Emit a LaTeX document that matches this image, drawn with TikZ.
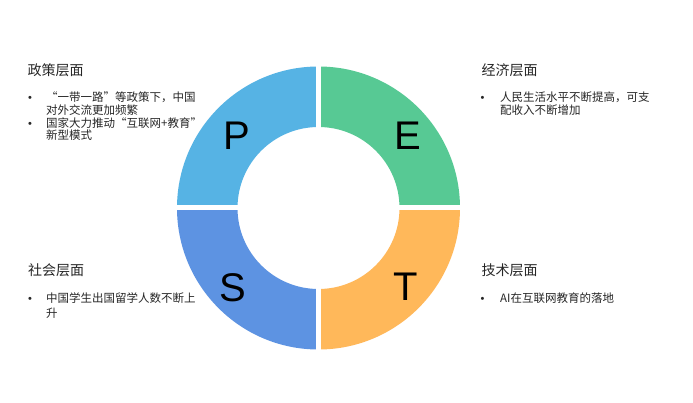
\documentclass[tikz,border=0pt]{standalone}
\usepackage{fontspec}
\setmainfont{Liberation Sans}
\newfontfamily\cjk{Noto Sans CJK SC}
\definecolor{cP}{RGB}{86,179,228}
\definecolor{cE}{RGB}{87,201,148}
\definecolor{cS}{RGB}{93,147,226}
\definecolor{cT}{RGB}{255,184,90}
\definecolor{txt}{RGB}{38,38,38}
\begin{document}
\begin{tikzpicture}[x=1pt,y=-1pt,
  letter/.style={font=\fontsize{40}{40}\selectfont, text=black, inner sep=0pt, anchor=center},
  head/.style={font=\cjk\fontsize{14}{16}\selectfont, text=txt, inner sep=0pt, anchor=base west},
  body/.style={font=\cjk\fontsize{11.5}{13}\selectfont, text=txt, inner sep=0pt, anchor=base west},
  bul/.style={font=\fontsize{11}{13}\selectfont, text=txt, inner sep=0pt, anchor=base west}]
\useasboundingbox[fill=white] (0,0) rectangle (693,403);
\coordinate (O) at (318.5,208);
% ring quadrants
\fill[cP] (O) ++(90:141.5pt) arc[start angle=90,end angle=180,radius=141.5pt] -- ++(0:60.5pt) arc[start angle=180,end angle=90,radius=81pt] -- cycle;
\fill[cE] (O) ++(0:141.5pt) arc[start angle=0,end angle=90,radius=141.5pt] -- ++(-90:60.5pt) arc[start angle=90,end angle=0,radius=81pt] -- cycle;
\fill[cS] (O) ++(180:141.5pt) arc[start angle=180,end angle=270,radius=141.5pt] -- ++(90:60.5pt) arc[start angle=270,end angle=180,radius=81pt] -- cycle;
\fill[cT] (O) ++(270:141.5pt) arc[start angle=270,end angle=360,radius=141.5pt] -- ++(180:60.5pt) arc[start angle=360,end angle=270,radius=81pt] -- cycle;
% white gaps
\draw[white, line width=5pt] (O) ++(0,-146) -- ++(0,292);
\draw[white, line width=5pt] (O) ++(-146,0) -- ++(292,0);
% letters
\node[letter] (P) at (236.7,136) {P};
\node[letter] (E) at (407.5,135.5) {E};
\node[letter] (S) at (232.5,288) {S};
\node[letter] (T) at (406,287) {T};
% policy
\node[head] (hP) at (27.5,75.3) {政策层面};
\node[bul] (bP1) at (28,101.5) {•};
\node[body] (tP1) at (46,101.5) {“一带一路”等政策下，中国};
\node[body] (tP2) at (46,114.3) {对外交流更加频繁};
\node[bul] (bP2) at (28,127.3) {•};
\node[body] (tP3) at (46,127.3) {国家大力推动“互联网+教育”};
\node[body] (tP4) at (46,139.5) {新型模式};
% economy
\node[head] (hE) at (481.5,75.3) {经济层面};
\node[bul] (bE1) at (480.5,101.7) {•};
\node[body] (tE1) at (500,101.7) {人民生活水平不断提高，可支};
\node[body] (tE2) at (500,114.2) {配收入不断增加};
% society
\node[head] (hS) at (28,275.3) {社会层面};
\node[bul] (bS1) at (28,302.6) {•};
\node[body] (tS1) at (46,302.6) {中国学生出国留学人数不断上};
\node[body] (tS2) at (46,317) {升};
% technology
\node[head] (hT) at (481.5,275.3) {技术层面};
\node[bul] (bT1) at (480.5,302.6) {•};
\node[body] (tT1) at (500,302.6) {AI在互联网教育的落地};
\end{tikzpicture}
\end{document}
